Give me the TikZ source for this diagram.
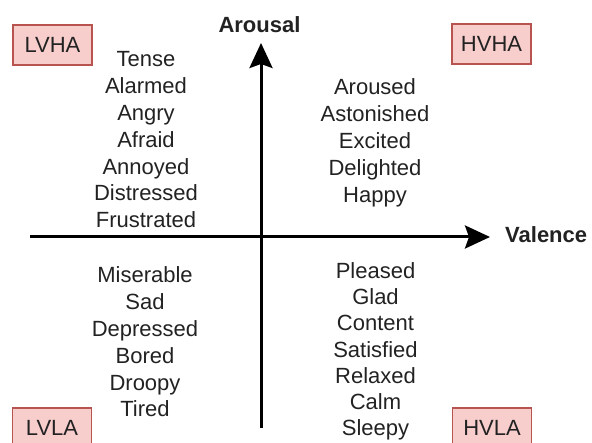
\documentclass[tikz,border=0pt]{standalone}
\usepackage{fontspec}
\setmainfont{Liberation Sans}
\usetikzlibrary{arrows.meta}
\definecolor{boxfill}{HTML}{F8CECC}
\definecolor{boxdraw}{HTML}{B85450}
\definecolor{txt}{HTML}{222222}
\begin{document}
\begin{tikzpicture}[x=1pt,y=-1pt,
  word/.style={anchor=base,inner sep=0pt,text=txt,font=\fontsize{22}{26}\selectfont},
  axislabel/.style={inner sep=0pt,text=txt,font=\fontsize{22}{26}\selectfont\bfseries},
  quadbox/.style={draw=boxdraw,fill=boxfill,line width=1.5pt,minimum width=79pt,minimum height=40pt,inner sep=0pt,text=txt,font=\fontsize{22}{26}\selectfont},
  axis/.style={line width=3pt,draw=black,-{Stealth[length=25pt,width=23pt,inset=4pt]}}]
\useasboundingbox (0,0) rectangle (592,443);
% axes
\coordinate (vbot) at (261,428);
\coordinate (vtop) at (261,43);
\coordinate (hleft) at (30,237);
\coordinate (hright) at (490,237);
\draw[axis] (vbot) -- (vtop);
\draw[axis] (hleft) -- (hright);
\node[axislabel,anchor=base] (arousal) at (259.5,33) {Arousal};
\node[axislabel,anchor=base west] (valence) at (505,243) {Valence};
% quadrant boxes
\node[quadbox] (lvha) at (52.5,45) {LVHA};
\node[quadbox] (hvha) at (491.5,44) {HVHA};
\node[quadbox] (lvla) at (52,428) {LVLA};
\node[quadbox] (hvla) at (492,428) {HVLA};
% word lists
\foreach \w [count=\i from 0] in {Tense,Alarmed,Angry,Afraid,Annoyed,Distressed,Frustrated}
  \node[word] (lt\i) at (146,67+26.8*\i) {\w};
\foreach \w [count=\i from 0] in {Aroused,Astonished,Excited,Delighted,Happy}
  \node[word] (rt\i) at (375,95+27*\i) {\w};
\foreach \w [count=\i from 0] in {Miserable,Sad,Depressed,Bored,Droopy,Tired}
  \node[word] (lb\i) at (145,283+26.8*\i) {\w};
\foreach \w [count=\i from 0] in {Pleased,Glad,Content,Satisfied,Relaxed,Calm,Sleepy}
  \node[word] (rb\i) at (375.5,278.5+26.2*\i) {\w};
\end{tikzpicture}
\end{document}
